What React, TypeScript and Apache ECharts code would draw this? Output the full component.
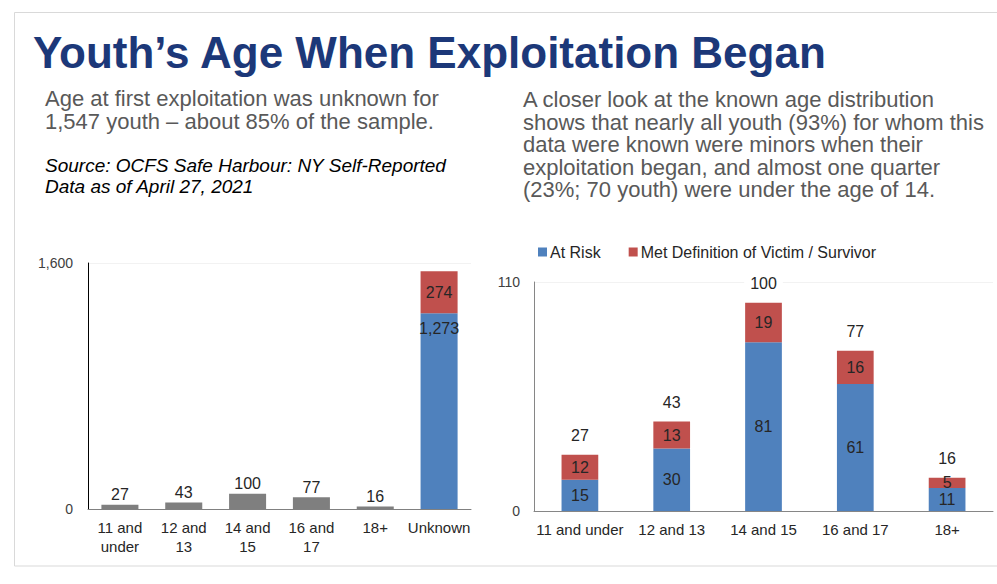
import React, { useEffect, useRef } from "react";
import * as echarts from "echarts";

const FONT = "'Liberation Sans', Arial, Helvetica, sans-serif";

// Left chart data
const leftCategories = ["11 and under", "12 and 13", "14 and 15", "16 and 17", "18+", "Unknown"];
const knownTotals = [27, 43, 100, 77, 16];
const unknownAtRisk = 1273;
const unknownVictim = 274;
const leftYTicks = [0, 1600];

// Right chart data
const rightCategories = ["11 and under", "12 and 13", "14 and 15", "16 and 17", "18+"];
const atRisk = [15, 30, 81, 61, 11];
const victim = [12, 13, 19, 16, 5];
const rightYTicks = [0, 110];

const TITLE = "Youth\u2019s Age When Exploitation Began";
const LEFT_LINES = ["Age at first exploitation was unknown for", "1,547 youth \u2013 about 85% of the sample."];
const SOURCE_LINES = ["Source: OCFS Safe Harbour: NY Self-Reported", "Data as of April 27, 2021"];
const RIGHT_LINES = [
  "A closer look at the known age distribution",
  "shows that nearly all youth (93%) for whom this",
  "data were known were minors when their",
  "exploitation began, and almost one quarter",
  "(23%; 70 youth) were under the age of 14.",
];

const BLUE = "#4F81BD";
const RED = "#C0504D";
const GRAY = "#7F7F7F";
const LABEL = "#262626";

export default function App() {
  const ref = useRef<HTMLDivElement>(null);

  useEffect(() => {
    if (!ref.current) return;
    const chart = echarts.init(ref.current, null, { renderer: "svg" });
    const n = leftCategories.length;
    const grayData: any[] = leftCategories.map((_, i) => (i < knownTotals.length ? knownTotals[i] : "-"));
    const unkBlue: any[] = leftCategories.map((_, i) => (i === n - 1 ? unknownAtRisk : "-"));
    const unkRed: any[] = leftCategories.map((_, i) => (i === n - 1 ? unknownVictim : "-"));
    const totals = atRisk.map((v, i) => v + victim[i]);
    const fmt = (v: number) => v.toLocaleString("en-US");

    const lines = (arr: string[], x: number, y0: number, step: number, font: string, fill: string) =>
      arr.map((t, i) => ({
        type: "text",
        x,
        y: y0 + i * step,
        style: { text: t, font, fill, verticalAlign: "middle", align: "left" },
      }));

    chart.setOption({
      animation: false,
      textStyle: { fontFamily: FONT },
      graphic: [
        {
          type: "rect",
          shape: { x: 14.5, y: 12.5, width: 990, height: 553.5 },
          style: { fill: "none", stroke: "#D9D9D9", lineWidth: 1 },
          silent: true,
        },
        {
          type: "text",
          x: 33,
          y: 52.5,
          style: {
            text: TITLE,
            font: `bold 44px ${FONT}`,
            fill: "#1C3879",
            verticalAlign: "middle",
            align: "left",
          },
        },
        ...lines(LEFT_LINES, 45, 98.5, 22.7, `22px ${FONT}`, "#595959"),
        ...lines(SOURCE_LINES, 45, 165.5, 21, `italic 19px ${FONT}`, "#000000"),
        ...lines(RIGHT_LINES, 523, 99.5, 22.6, `22px ${FONT}`, "#595959"),
      ],
      legend: {
        data: ["At Risk", "Met Definition of Victim / Survivor"],
        left: 533,
        top: 239,
        icon: "rect",
        itemWidth: 9,
        itemHeight: 9,
        itemGap: 28,
        textStyle: { fontSize: 16, color: LABEL, fontFamily: FONT, padding: [0, 0, 0, -2] },
      },
      grid: [
        { left: 88, top: 263, width: 383, height: 246 },
        { left: 534, top: 282, width: 459, height: 229 },
      ],
      xAxis: [
        {
          type: "category",
          gridIndex: 0,
          data: leftCategories,
          axisLine: { lineStyle: { color: "#808080", width: 1 } },
          axisTick: { show: false },
          axisLabel: {
            fontSize: 15,
            color: LABEL,
            margin: 9,
            lineHeight: 19,
            interval: 0,
            formatter: (v: string) => v.replace(" and ", " and\n"),
          },
        },
        {
          type: "category",
          gridIndex: 1,
          data: rightCategories,
          axisLine: { lineStyle: { color: "#868686", width: 1 } },
          axisTick: { show: false },
          axisLabel: { fontSize: 15, color: LABEL, margin: 11, interval: 0 },
        },
      ],
      yAxis: [
        {
          type: "value",
          gridIndex: 0,
          min: leftYTicks[0],
          max: leftYTicks[1],
          interval: leftYTicks[1] - leftYTicks[0],
          axisLine: { show: true, lineStyle: { color: "#000000", width: 1 } },
          axisTick: { show: false },
          splitLine: { show: true, lineStyle: { color: "#F2F2F2" } },
          axisLabel: { fontSize: 14, color: "#404040", margin: 15, formatter: (v: number) => fmt(v) },
        },
        {
          type: "value",
          gridIndex: 1,
          min: rightYTicks[0],
          max: rightYTicks[1],
          interval: rightYTicks[1] - rightYTicks[0],
          axisLine: { show: true, lineStyle: { color: "#868686", width: 1 } },
          axisTick: { show: false },
          splitLine: { show: true, lineStyle: { color: "#F2F2F2" } },
          axisLabel: { fontSize: 14, color: "#404040", margin: 14 },
        },
      ],
      series: [
        {
          name: "Known",
          type: "bar",
          xAxisIndex: 0,
          yAxisIndex: 0,
          stack: "left",
          barCategoryGap: "42%",
          data: grayData,
          itemStyle: { color: GRAY },
          label: { show: true, position: "top", distance: 2, fontSize: 16, color: LABEL },
        },
        {
          name: "Unknown At Risk",
          type: "bar",
          xAxisIndex: 0,
          yAxisIndex: 0,
          stack: "left",
          barCategoryGap: "42%",
          data: unkBlue,
          itemStyle: { color: BLUE },
          label: {
            show: true,
            position: "insideTop",
            distance: 7,
            fontSize: 16,
            color: LABEL,
            formatter: (p: any) => fmt(p.value),
          },
        },
        {
          name: "Unknown Victim",
          type: "bar",
          xAxisIndex: 0,
          yAxisIndex: 0,
          stack: "left",
          barCategoryGap: "42%",
          data: unkRed,
          itemStyle: { color: RED },
          label: { show: true, position: "inside", fontSize: 16, color: LABEL },
        },
        {
          name: "At Risk",
          type: "bar",
          xAxisIndex: 1,
          yAxisIndex: 1,
          stack: "right",
          barCategoryGap: "60%",
          data: atRisk,
          itemStyle: { color: BLUE },
          label: { show: true, position: "inside", fontSize: 16, color: LABEL },
        },
        {
          name: "Met Definition of Victim / Survivor",
          type: "bar",
          xAxisIndex: 1,
          yAxisIndex: 1,
          stack: "right",
          barCategoryGap: "60%",
          data: victim,
          itemStyle: { color: RED },
          label: { show: true, position: "inside", fontSize: 16, color: LABEL },
        },
        {
          name: "Total",
          type: "bar",
          xAxisIndex: 1,
          yAxisIndex: 1,
          stack: "right",
          barCategoryGap: "60%",
          data: totals.map(() => 0),
          itemStyle: { color: "transparent" },
          label: {
            show: true,
            position: "top",
            distance: 11,
            fontSize: 16,
            color: LABEL,
            backgroundColor: "#ffffff",
            padding: [0, 6],
            formatter: (p: any) => String(totals[p.dataIndex]),
          },
        },
      ],
    });
    return () => chart.dispose();
  }, []);

  return (
    <div
      ref={ref}
      style={{ position: "fixed", left: 0, top: 0, width: 997, height: 584, background: "#ffffff" }}
    />
  );
}
